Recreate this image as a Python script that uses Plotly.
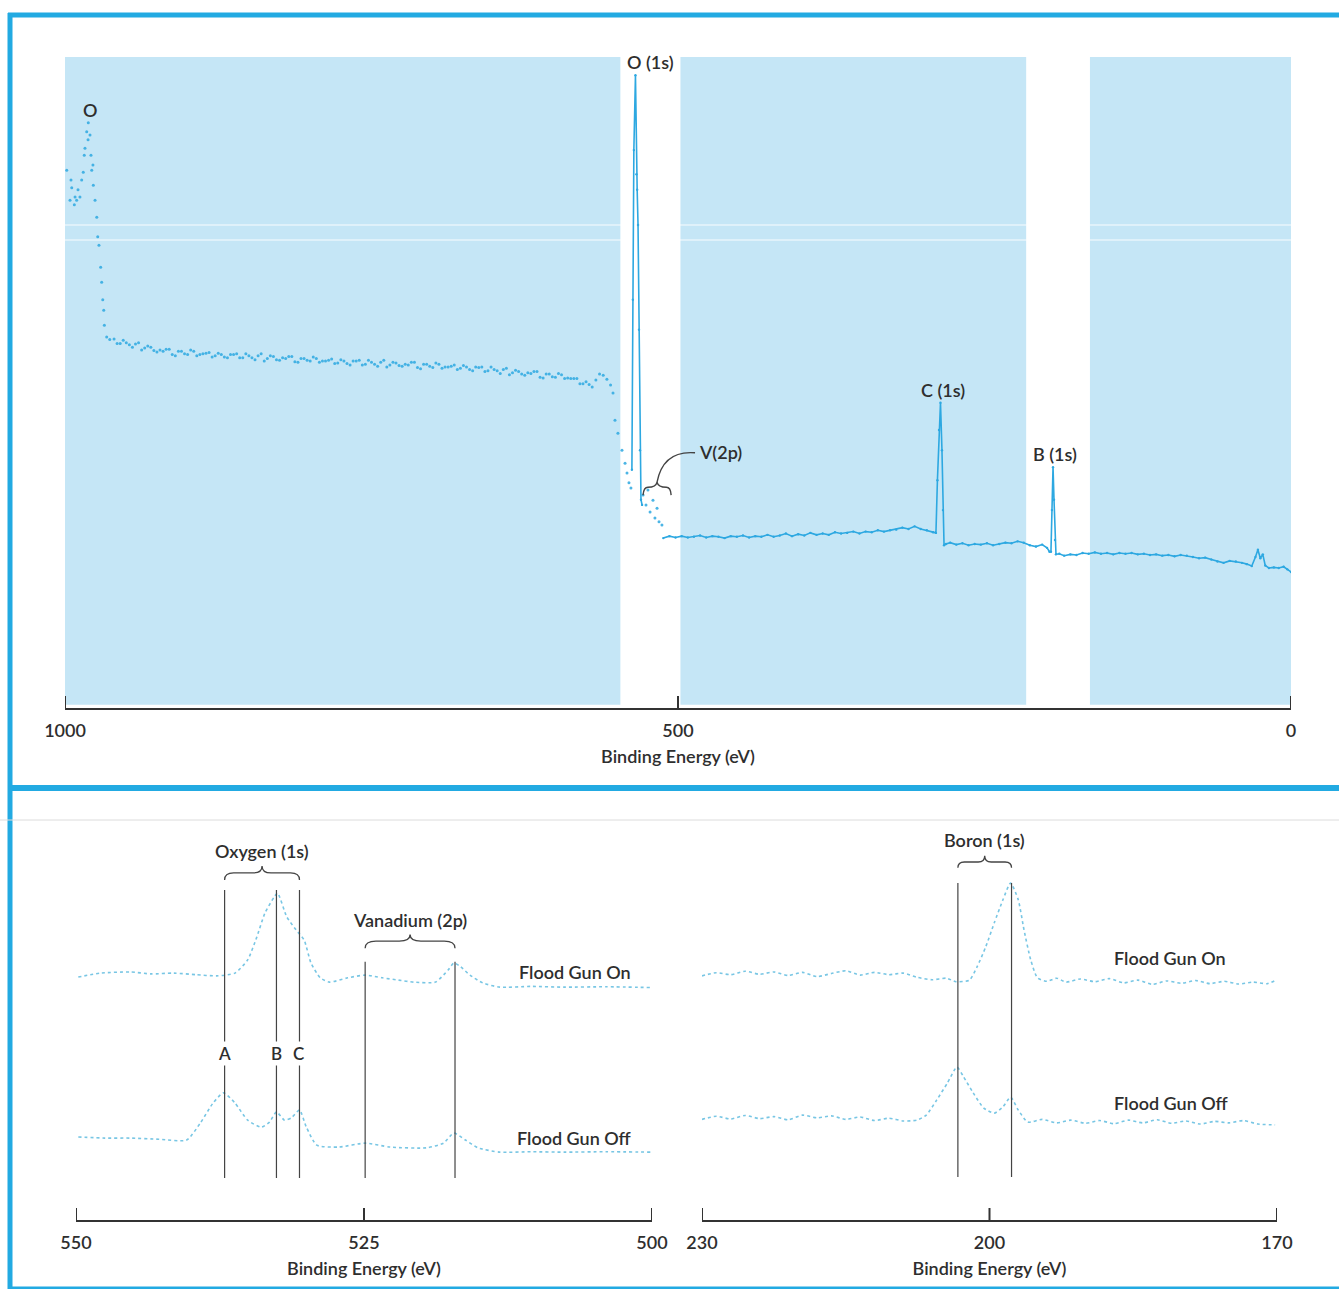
import plotly.graph_objects as go

# ---------------- Survey spectrum (top panel) ----------------
survey_ticks = [1000, 500, 0]
shade_start = [1000, 498, 164]
shade_end = [547, 216, 0]

# O KLL Auger region (scattered points)
auger_ev = [998.6, 995.9, 995.1, 994.5, 992.4, 991.8, 990.5, 989.4, 987.8, 986.4,
            985.1, 984.3, 983.7, 982.3, 981.2, 981.0, 979.6, 978.8, 978.2, 977.2,
            976.9, 975.5, 974.1, 973.3, 972.3, 970.9, 970.1, 969.2, 968.4, 967.9,
            966.0, 963.5]
auger_int = [82.6, 78.0, 81.1, 79.9, 77.3, 78.5, 78.0, 79.6, 78.5, 81.1,
             82.3, 84.9, 86.0, 88.5, 87.3, 89.9, 88.0, 84.9, 82.6, 83.4,
             80.3, 78.0, 75.4, 72.4, 71.1, 67.7, 65.4, 62.7, 61.1, 58.8,
             57.0, 56.6]

# high-energy background (two interleaved sample rows)
bg_ev = [960, 955, 950, 945, 940, 935, 930, 925, 920, 915, 910, 905, 900, 895, 890,
         885, 880, 875, 870, 865, 860, 855, 850, 845, 840, 835, 830, 825, 820, 815,
         810, 805, 800, 795, 790, 785, 780, 775, 770, 765, 760, 755, 750, 745, 740,
         735, 730, 725, 720, 715, 710, 705, 700, 695, 690, 685, 680, 675, 670, 665,
         660, 655, 650, 645, 640, 635, 630, 625, 620, 615, 610, 605, 600, 595, 590,
         585, 580, 575, 570, 567, 564, 561, 558, 555, 553]
bg_int = [56.7, 56.0, 56.1, 55.4, 56.1, 55.3, 55.4, 54.7, 54.8, 55.1, 54.1, 54.8, 54.3, 54.8, 54.3,
          54.5, 53.9, 54.5, 53.9, 54.3, 54.4, 53.8, 54.1, 53.5, 54.4, 53.7, 54.0, 53.4, 53.7, 54.0,
          53.1, 53.7, 53.3, 53.7, 53.3, 53.4, 52.9, 53.5, 52.9, 53.3, 53.4, 52.8, 53.1, 52.5, 53.4,
          52.7, 53.0, 52.5, 52.7, 53.1, 52.1, 52.8, 52.3, 52.8, 52.4, 52.5, 52.0, 52.6, 52.0, 52.4,
          52.4, 51.8, 52.0, 51.4, 52.2, 51.5, 51.7, 51.1, 51.4, 51.7, 50.7, 51.3, 50.8, 51.2, 50.7,
          50.6, 49.8, 50.1, 49.3, 50.4, 51.3, 51.1, 50.5, 49.6, 48.4]
bg2_ev = [957.5, 952.5, 947.5, 942.5, 937.5, 932.5, 927.5, 922.5, 917.5, 912.5,
          907.5, 902.5, 897.5, 892.5, 887.5, 882.5, 877.5, 872.5, 867.5, 862.5,
          857.5, 852.5, 847.5, 842.5, 837.5, 832.5, 827.5, 822.5, 817.5, 812.5,
          807.5, 802.5, 797.5, 792.5, 787.5, 782.5, 777.5, 772.5, 767.5, 762.5,
          757.5, 752.5, 747.5, 742.5, 737.5, 732.5, 727.5, 722.5, 717.5, 712.5,
          707.5, 702.5, 697.5, 692.5, 687.5, 682.5, 677.5, 672.5, 667.5, 662.5,
          657.5, 652.5, 647.5, 642.5, 637.5, 632.5, 627.5, 622.5, 617.5, 612.5,
          607.5, 602.5, 597.5, 592.5, 587.5, 582.5, 577.5, 572.5]
bg2_int = [56.0, 56.5, 55.8, 55.9, 55.0, 55.6, 54.9, 55.0, 55.1, 54.3,
           54.8, 54.4, 55.0, 54.1, 54.4, 54.6, 54.1, 54.3, 53.8, 54.3,
           53.8, 54.4, 53.8, 54.1, 53.3, 54.1, 53.5, 53.8, 54.0, 53.2,
           53.7, 53.4, 53.9, 53.1, 53.3, 53.6, 53.0, 53.3, 52.7, 53.3,
           52.7, 53.4, 52.8, 53.1, 52.4, 53.1, 52.6, 52.8, 53.1, 52.3,
           52.8, 52.5, 53.0, 52.2, 52.4, 52.7, 52.2, 52.4, 51.8, 52.3,
           51.7, 52.4, 51.8, 52.0, 51.2, 51.9, 51.3, 51.5, 51.7, 50.8,
           51.3, 50.9, 51.4, 50.6, 50.6, 50.6, 49.8, 49.7]

# edge before O(1s)
drop_ev = [551.4, 549.0, 545.7, 543.2, 541.6, 540.0, 538.4]
drop_int = [44.2, 42.2, 39.6, 37.6, 36.1, 34.6, 33.8]

# O(1s) peak
o1s_ev = [537.6, 536.8, 536.0, 534.7, 533.9, 533.3, 532.6, 531.8, 531.0, 530.2, 529.3]
o1s_int = [36.6, 62.7, 85.7, 97.2, 82.0, 79.6, 74.2, 58.1, 39.6, 32.0, 31.2]

# V(2p) scattered points
v2p_ev = [528.5, 526.1, 524.5, 522.8, 520.4, 518.8, 517.1, 515.5, 513.1]
v2p_int = [32.7, 31.2, 33.5, 30.1, 31.9, 29.2, 30.7, 28.6, 28.1]

# low binding energy region with C(1s) and B(1s)
low_ev = [512, 507, 502, 497, 492, 487, 482, 477, 472, 467, 462, 457, 452, 447, 442,
          437, 432, 427, 422, 417, 412, 407, 402, 397, 392, 387, 382, 377, 372, 367,
          362, 357, 352, 347, 342, 337, 332, 327, 322, 317, 312, 307, 302, 297, 292,
          289.6, 288.4, 287.1, 285.9, 284.7, 283.9, 283.0, 281.4,
          278, 273, 268, 263, 258, 253, 248, 243, 238, 233, 228, 223, 218, 213, 208, 203,
          199, 197, 195.8, 195.0, 194.1, 193.3, 192.5, 191.7, 189, 185,
          180, 175, 170, 165, 160, 155, 150, 145, 140, 135, 130, 125, 120, 115, 110,
          105, 100, 95, 90, 85, 80, 75, 70, 65, 60, 55, 50, 45, 40,
          36, 32, 29, 27, 25, 23, 21, 18, 14, 10, 6, 3, 0]
low_int = [26.1, 26.4, 26.2, 26.4, 26.2, 26.3, 26.5, 26.2, 26.4, 26.3, 26.1, 26.4, 26.3, 26.5, 26.2,
           26.4, 26.3, 26.6, 26.3, 26.5, 26.8, 26.4, 26.7, 26.5, 26.9, 26.6, 26.8, 26.6, 27.0, 26.8,
           26.9, 27.1, 26.8, 27.1, 27.0, 27.3, 27.1, 27.3, 27.4, 27.7, 27.5, 27.9, 27.5, 27.3, 27.0,
           26.9, 35.0, 42.7, 46.9, 39.6, 30.4, 25.0, 25.2,
           25.4, 25.1, 25.3, 25.0, 25.2, 25.1, 25.3, 25.0, 25.2, 25.4, 25.3, 25.6, 25.4, 25.0, 24.8, 25.1,
           24.6, 24.0, 24.0, 30.4, 37.0, 32.0, 25.8, 23.6, 23.7, 23.4,
           23.6, 23.5, 23.8, 23.7, 23.9, 23.7, 23.8, 23.6, 23.8, 23.7, 23.8, 23.6, 23.7, 23.5, 23.6,
           23.4, 23.5, 23.3, 23.5, 23.4, 23.2, 23.0, 23.1, 22.8, 22.5, 22.3, 22.6, 22.5, 22.3,
           22.1, 21.8, 23.2, 24.3, 23.0, 23.6, 21.9, 21.5, 21.6, 21.5, 21.7, 21.3, 20.9]

# ---------------- Detail: O(1s) / V(2p) ----------------
ov_ticks = [550, 525, 500]
ov_on_ev = [549.8, 547.9, 545.3, 543.5, 541.5, 539.6, 537.8, 536.2, 535.1, 534.3,
            533.6, 532.8, 532.5, 531.7, 530.9, 530.2, 529.6, 528.8, 528.0, 526.4,
            524.9, 523.4, 522.0, 520.7, 518.8, 517.7, 517.2, 516.6, 515.8, 514.7,
            513.2, 510.5, 507.6, 504.0, 500.0]
ov_on_int = [62.3, 63.3, 63.6, 63.1, 63.3, 62.9, 62.6, 63.3, 66.7, 72.6,
             78.7, 82.8, 83.8, 77.7, 74.4, 71.8, 65.9, 62.1, 61.0, 62.1,
             62.8, 62.1, 61.5, 61.0, 61.0, 64.1, 65.9, 64.9, 62.8, 60.8,
             59.7, 59.9, 59.7, 59.8, 59.6]
ov_off_ev = [549.8, 547.5, 545.3, 542.8, 540.4, 539.2, 538.1, 537.2, 536.2, 535.1,
             533.9, 533.2, 532.6, 531.9, 531.3, 530.6, 530.0, 529.1, 527.2, 524.9,
             522.7, 519.6, 518.1, 517.2, 516.2, 515.1, 513.2, 510.5, 507.6, 504.0,
             500.0]
ov_off_int = [21.3, 21.0, 21.0, 20.7, 20.5, 24.9, 30.0, 32.6, 30.0, 25.6,
              23.8, 25.1, 27.7, 25.6, 26.2, 28.2, 23.8, 19.2, 18.7, 19.7,
              18.7, 18.5, 19.7, 22.3, 20.5, 18.5, 17.4, 17.5, 17.4, 17.5,
              17.4]
o1s_marks = [537.1, 532.6, 530.6]
o1s_mark_labels = ["A", "B", "C"]
v2p_marks = [524.9, 517.1]

# ---------------- Detail: B(1s) ----------------
b_ticks = [230, 200, 170]
b_on_ev = [230.0, 228.5, 227.0, 225.5, 224.0, 222.5, 221.0, 219.5, 218.0, 216.5,
           215.0, 213.5, 212.0, 210.5, 209.0, 207.5, 206.0, 204.5, 203.5, 202.1,
           201.3, 200.4, 199.5, 198.6, 197.8, 197.0, 196.4, 195.7, 195.0, 194.0,
           193.0, 192.0, 190.5, 189.0, 187.5, 186.0, 184.5, 183.0, 181.5, 180.0,
           178.5, 177.0, 175.5, 174.0, 172.5, 171.0, 170.2]
b_on_int = [62.6, 63.4, 62.9, 63.8, 63.0, 63.6, 62.7, 63.5, 62.4, 63.2,
            63.9, 62.8, 63.5, 62.9, 63.3, 62.2, 61.6, 62.0, 61.1, 61.5,
            64.9, 70.0, 76.2, 82.1, 86.4, 82.1, 74.4, 66.7, 62.1, 61.2,
            62.0, 61.0, 61.8, 61.1, 61.9, 60.8, 61.5, 60.4, 61.3, 60.7,
            61.4, 60.6, 61.2, 60.5, 61.0, 60.6, 61.4]
b_off_ev = [230.0, 228.5, 227.0, 225.5, 224.0, 222.5, 221.0, 219.5, 218.0, 216.5,
            215.0, 213.5, 212.0, 210.5, 209.0, 207.6, 206.6, 205.5, 204.4, 203.4,
            202.7, 201.7, 200.6, 199.5, 198.6, 197.8, 197.0, 196.0, 194.5, 193.0,
            191.5, 190.0, 188.5, 187.0, 185.5, 184.0, 182.5, 181.0, 179.5, 178.0,
            176.5, 175.0, 173.5, 172.0, 170.2]
b_off_int = [25.8, 26.6, 25.9, 26.8, 26.0, 26.5, 25.7, 26.9, 26.2, 26.7,
             25.8, 26.4, 25.5, 26.1, 25.4, 25.6, 26.9, 30.8, 35.1, 39.2,
             36.7, 32.6, 28.7, 27.4, 29.0, 31.5, 28.2, 25.1, 25.8, 24.9,
             25.6, 24.8, 25.5, 24.7, 25.6, 24.9, 25.7, 24.8, 25.4, 24.6,
             25.3, 24.9, 25.5, 24.6, 24.4]
b1s_marks = [203.3, 197.7]

# ---------------- Styles ----------------
FONT = "Lato, 'Open Sans', sans-serif"
TXT = "#2e2e2e"
FRAME = "rgb(34,170,226)"
SHADE = "rgb(197,230,246)"
DOT = "rgb(45,168,225)"
FAINT = "rgb(120,198,228)"
AXC = "#333"
FS = 18
FW = 600
W, H = 1339, 1289


def px(x):
    return x / W


def py(y):
    return 1 - y / H


fig = go.Figure()

# survey: scattered points
fig.add_trace(go.Scatter(
    x=auger_ev + bg_ev + bg2_ev + drop_ev + v2p_ev,
    y=auger_int + bg_int + bg2_int + drop_int + v2p_int,
    mode="markers", marker=dict(size=3, color=DOT, opacity=0.85),
    xaxis="x", yaxis="y", showlegend=False, hoverinfo="x+y"))
# survey: continuous traces
fig.add_trace(go.Scatter(
    x=o1s_ev + [None] + low_ev, y=o1s_int + [None] + low_int,
    mode="lines+markers", line=dict(color=DOT, width=1.6),
    marker=dict(size=2.4, color=DOT), connectgaps=False,
    xaxis="x", yaxis="y", showlegend=False))

# detail traces
for xs, ys, ax in [(ov_on_ev, ov_on_int, "2"), (ov_off_ev, ov_off_int, "2"),
                   (b_on_ev, b_on_int, "3"), (b_off_ev, b_off_int, "3")]:
    fig.add_trace(go.Scatter(
        x=xs, y=ys, mode="lines",
        line=dict(color=FAINT, width=1.6, dash="dot", shape="spline", smoothing=0.6),
        xaxis="x" + ax, yaxis="y" + ax, showlegend=False))

shapes = []
# shaded columns of the survey
for a, b in zip(shade_start, shade_end):
    shapes.append(dict(type="rect", xref="x", yref="y domain", x0=a, x1=b, y0=0.005, y1=1,
                       fillcolor=SHADE, line=dict(width=0), layer="below"))
# faint scan lines across the shading
for yv in [74.2, 71.9]:
    shapes.append(dict(type="line", xref="x", yref="y", x0=1000, x1=0, y0=yv, y1=yv,
                       line=dict(color="white", width=2), opacity=0.45, layer="below"))

# tick marks (drawn upward from each axis line, including the end ticks)
for ticks, xr, yr, frac in [(survey_ticks, "x", "y domain", 12 / 651),
                            (ov_ticks, "x2", "y2 domain", 12 / 390),
                            (b_ticks, "x3", "y3 domain", 12 / 390)]:
    for t in ticks:
        shapes.append(dict(type="line", xref=xr, yref=yr, x0=t, x1=t, y0=0, y1=frac,
                           line=dict(color=AXC, width=2)))

# V(2p) leader and brace in survey
shapes.append(dict(type="path", xref="x", yref="y",
                   path="M 486.1,39.2 Q 512,39.6 517.1,34.7",
                   line=dict(color="#444", width=1.4)))
shapes.append(dict(type="path", xref="x", yref="y",
                   path="M 528.5,32.7 Q 528,33.9 524.5,33.9 Q 518,33.9 517.1,34.7 "
                        "Q 516.2,33.9 509.5,33.9 Q 506,33.9 505.6,32.7",
                   line=dict(color="#444", width=1.4)))


def brace_path(xa, xb, y_end, y_bar, y_tip):
    xm = (xa + xb) / 2
    d = (xb - xa) * 0.12
    return (f"M {xa},{y_end} Q {xa},{y_bar} {xa + d},{y_bar} "
            f"L {xm - d},{y_bar} Q {xm},{y_bar} {xm},{y_tip} "
            f"Q {xm},{y_bar} {xm + d},{y_bar} L {xb - d},{y_bar} "
            f"Q {xb},{y_bar} {xb},{y_end}")


# vertical marker lines in detail panels
for xv in o1s_marks:
    shapes.append(dict(type="line", xref="x2", yref="y2", x0=xv, x1=xv, y0=10.8, y1=84.6,
                       line=dict(color="#444", width=1.2)))
for xv in v2p_marks:
    shapes.append(dict(type="line", xref="x2", yref="y2", x0=xv, x1=xv, y0=10.8, y1=66.2,
                       line=dict(color="#444", width=1.2)))
for xv in b1s_marks:
    shapes.append(dict(type="line", xref="x3", yref="y3", x0=xv, x1=xv, y0=11.0, y1=86.4,
                       line=dict(color="#444", width=1.2)))

shapes.append(dict(type="path", xref="x2", yref="y2",
                   path=brace_path(o1s_marks[0], o1s_marks[-1], 87.2, 89.0, 90.8),
                   line=dict(color="#444", width=1.3)))
shapes.append(dict(type="path", xref="x2", yref="y2",
                   path=brace_path(v2p_marks[0], v2p_marks[-1], 69.7, 71.5, 73.2),
                   line=dict(color="#444", width=1.3)))
shapes.append(dict(type="path", xref="x3", yref="y3",
                   path=brace_path(b1s_marks[0], b1s_marks[-1], 90.3, 91.8, 93.4),
                   line=dict(color="#444", width=1.3)))

# page frame
shapes += [
    dict(type="line", xref="paper", yref="paper", x0=px(8), x1=1, y0=py(15), y1=py(15),
         line=dict(color=FRAME, width=5)),
    dict(type="line", xref="paper", yref="paper", x0=px(10), x1=px(10), y0=py(13), y1=0,
         line=dict(color=FRAME, width=5)),
    dict(type="line", xref="paper", yref="paper", x0=px(8), x1=1, y0=py(788), y1=py(788),
         line=dict(color=FRAME, width=6)),
    dict(type="line", xref="paper", yref="paper", x0=px(8), x1=1, y0=py(1288), y1=py(1288),
         line=dict(color=FRAME, width=3)),
    dict(type="line", xref="paper", yref="paper", x0=0, x1=1, y0=py(820), y1=py(820),
         line=dict(color="#dcdcdc", width=1)),
]

ann = []


def label(text, x, y, xref, yref, size=FS, **kw):
    ann.append(dict(text=text, x=x, y=y, xref=xref, yref=yref, showarrow=False,
                    font=dict(family=FONT, size=size, color=TXT, weight=FW), **kw))


label("O", 979.6, 91.9, "x", "y")
label("O (1s)", 522.8, 99.2, "x", "y")
label("C (1s)", 283.9, 48.8, "x", "y")
label("B (1s)", 192.5, 39.0, "x", "y")
label("V(2p)", 484.5, 39.3, "x", "y", xanchor="left")

label("Oxygen (1s)", 533.85, 94.6, "x2", "y2")
label("Vanadium (2p)", 521.0, 76.9, "x2", "y2")
for xv, t in zip(o1s_marks, o1s_mark_labels):
    label(t, xv, 42.8, "x2", "y2", size=17, bgcolor="white", borderpad=1)
label("Flood Gun On", 506.7, 63.6, "x2", "y2")
label("Flood Gun Off", 506.7, 21.0, "x2", "y2")

label("Boron (1s)", 200.5, 97.4, "x3", "y3")
label("Flood Gun On", 181.2, 67.2, "x3", "y3")
label("Flood Gun Off", 181.0, 30.0, "x3", "y3")

axis_common = dict(ticks="", showline=True, linewidth=2, linecolor=AXC, mirror=False,
                   showgrid=False, zeroline=False, automargin=False,
                   tickfont=dict(family=FONT, size=FS, color=TXT, weight=FW),
                   ticklabelstandoff=5,
                   title=dict(text="Binding Energy (eV)", standoff=11,
                              font=dict(family=FONT, size=FS, color=TXT, weight=FW)))
yaxis_common = dict(visible=False, range=[0, 100], fixedrange=True)

fig.update_layout(
    width=W, height=H, autosize=False,
    margin=dict(l=0, r=0, t=0, b=0),
    paper_bgcolor="white", plot_bgcolor="rgba(0,0,0,0)",
    xaxis=dict(domain=[px(65), px(1291)], range=[1000, 0], anchor="y",
               tickvals=survey_ticks, **axis_common),
    yaxis=dict(domain=[py(708), py(57)], anchor="x", **yaxis_common),
    xaxis2=dict(domain=[px(76), px(652)], range=[550, 500], anchor="y2",
                tickvals=ov_ticks, **axis_common),
    yaxis2=dict(domain=[py(1220), py(830)], anchor="x2", **yaxis_common),
    xaxis3=dict(domain=[px(702), px(1277)], range=[230, 170], anchor="y3",
                tickvals=b_ticks, **axis_common),
    yaxis3=dict(domain=[py(1220), py(830)], anchor="x3", **yaxis_common),
    shapes=shapes, annotations=ann,
    font=dict(family=FONT, color=TXT),
)

fig.write_html("out.html", config={"displayModeBar": False},
               post_script="document.body.style.margin='0';document.body.style.padding='0';")
